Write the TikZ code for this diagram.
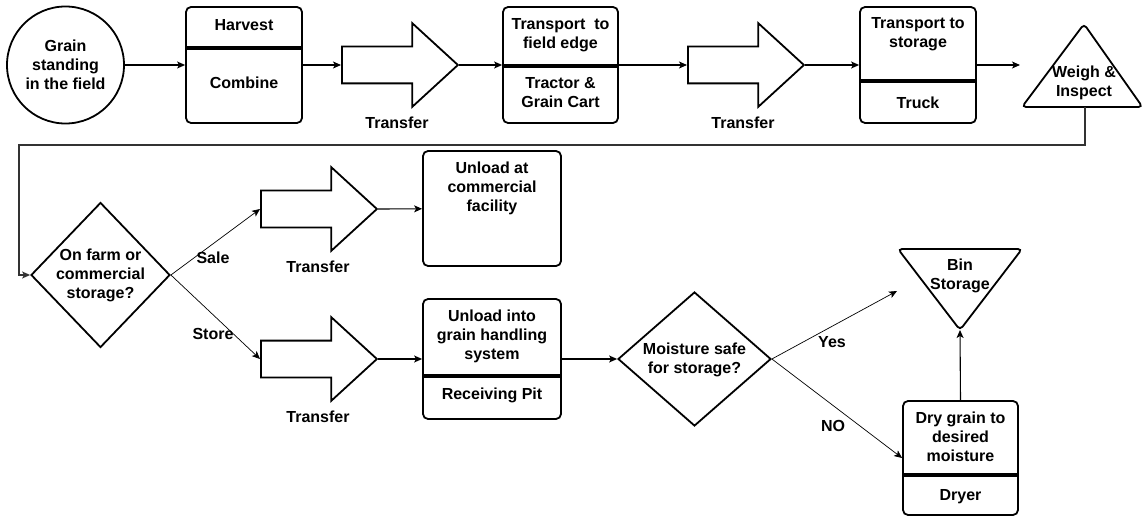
\documentclass[tikz,border=0pt]{standalone}
\usepackage{fontspec}
\setmainfont{Liberation Sans}
\usetikzlibrary{shapes.geometric,shapes.arrows,arrows.meta,positioning}

\begin{document}
\begin{tikzpicture}[x=1pt,y=-1pt,
    font=\bfseries\fontsize{16}{19}\selectfont,
    box/.style={draw,line width=1.8pt,rounded corners=5pt,inner sep=0pt},
    txt/.style={align=center,inner sep=0pt},
    xfer/.style={draw,single arrow,line width=1.8pt,inner xsep=0pt,inner ysep=17.5pt,
      minimum height=116pt,minimum width=82pt,anchor=tail,
      single arrow head extend=23.5pt,single arrow tip angle=85},
    decision/.style={draw,diamond,line width=1.8pt,inner sep=0pt},
    flow/.style={-{Stealth[length=8pt,width=7pt,inset=2pt]},line width=1.1pt},
    branch/.style={flow,line width=0.7pt},
    divider/.style={line width=4pt}]
  \useasboundingbox (0,0) rectangle (1144,516);

  % Top row: field to weigh station
  \node[draw,circle,line width=1.8pt,minimum size=117pt,txt] (field) at (65.5,65) {Grain\\standing\\in the field};
  \node[box,minimum width=116pt,minimum height=116pt] (harvest) at (244,65) {};
  \draw[divider] (harvest.west |- 0,48) -- (harvest.east |- 0,48);
  \node[txt] (harvesttop) at (244,25) {Harvest};
  \node[txt] (harvestbot) at (244,83) {Combine};
  \node[xfer] (t1) at (341,65) {};
  \node[txt] (t1lbl) at (397,123) {Transfer};
  \node[box,minimum width=115pt,minimum height=116pt] (edge) at (560.5,65) {};
  \draw[divider] (edge.west |- 0,66) -- (edge.east |- 0,66);
  \node[txt] (edgetop) at (560.5,35) {Transport\ \ to\\field edge};
  \node[txt] (edgebot) at (560.5,93) {Tractor \&\\Grain Cart};
  \node[xfer] (t2) at (687,65) {};
  \node[txt] (t2lbl) at (743,123) {Transfer};
  \node[box,minimum width=116pt,minimum height=116pt] (truck) at (918,65) {};
  \draw[divider] (truck.west |- 0,81) -- (truck.east |- 0,81);
  \node[txt] (trucktop) at (918,34.5) {Transport to\\storage};
  \node[txt] (truckbot) at (918,103) {Truck};
  % Weigh triangle
  \draw[line width=1.8pt,rounded corners=4pt] (1022,107) -- (1084,24) -- (1142.5,107) -- cycle;
  \node[txt] (weigh) at (1084,82.5) {Weigh \&\\Inspect};
  \coordinate (weighin) at (1020,65);
  \coordinate (weighout) at (1085,107);

  \draw[flow] (field) -- (harvest);
  \draw[flow] (harvest) -- (t1.tail);
  \draw[flow] (t1.tip) -- (edge);
  \draw[flow] (edge) -- (t2.tail);
  \draw[flow] (t2.tip) -- (truck);
  \draw[flow] (truck) -- (weighin);

  % Sale or store
  \node[decision,minimum width=139pt,minimum height=145pt] (choice) at (100.5,275) {};
  \node[txt] (choicetxt) at (100.5,275) {On farm or\\commercial\\storage?};
  \draw[flow,black!80] (weighout) -- (1085,145) -- (19,145) |- (choice.west);
  \node[xfer] (t3) at (260,209) {};
  \node[txt] (t3lbl) at (318,267) {Transfer};
  \node[xfer] (t4) at (260,359) {};
  \node[txt] (t4lbl) at (318,417) {Transfer};
  \draw[branch] (choice.east) -- (t3.tail);
  \draw[branch] (choice.east) -- (t4.tail);
  \node[txt] (salelbl) at (213,258) {Sale};
  \node[txt] (storelbl) at (213,334) {Store};

  \node[box,minimum width=138pt,minimum height=115pt] (commercial) at (492,208.5) {};
  \node[txt] (commercialtxt) at (492,188) {Unload at\\commercial\\facility};
  \node[box,minimum width=138pt,minimum height=120pt] (pit) at (492,359) {};
  \draw[divider] (pit.west |- 0,376) -- (pit.east |- 0,376);
  \node[txt] (pittop) at (492,336) {Unload into\\grain handling\\system};
  \node[txt] (pitbot) at (492,395) {Receiving Pit};
  \draw[flow] (t3.tip) -- (commercial);
  \draw[flow] (t4.tip) -- (pit);

  % Moisture check and drying
  \node[decision,minimum width=153pt,minimum height=134pt] (moisture) at (694.5,359) {};
  \node[txt] (moisturetxt) at (694.5,359.5) {Moisture safe\\for storage?};
  \draw[flow] (pit) -- (moisture);
  \draw[line width=1.8pt,rounded corners=4pt] (898,249) -- (1022,249) -- (960,330) -- cycle;
  \node[txt] (bin) at (960,276) {Bin\\Storage};
  \coordinate (binin) at (897,291);
  \coordinate (binapex) at (960,330);
  \node[box,minimum width=115pt,minimum height=114pt] (dryer) at (960.5,458) {};
  \draw[divider] (dryer.west |- 0,475) -- (dryer.east |- 0,475);
  \node[txt] (dryertop) at (960.5,437) {Dry grain to\\desired\\moisture};
  \node[txt] (dryerbot) at (960.5,497) {Dryer};
  \draw[branch] (moisture.east) -- (binin);
  \draw[branch] (moisture.east) -- (dryer.west);
  \draw[flow] (dryer.north) -- (binapex);
  \node[txt] (yeslbl) at (832,342) {Yes};
  \node[txt] (nolbl) at (833,426) {NO};
\end{tikzpicture}
\end{document}
